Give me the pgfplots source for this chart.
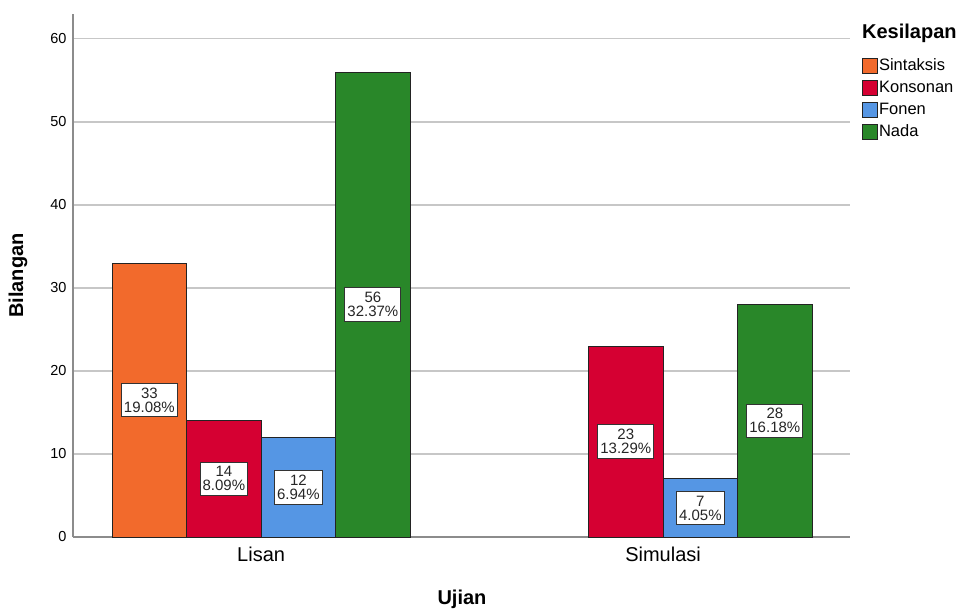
\documentclass[border=0pt]{standalone}
\usepackage{pgfplots}
\pgfplotsset{compat=1.18}
\usepackage{pgfplotstable}
\usepackage{fontspec}
\setmainfont{Liberation Sans}

\definecolor{cSin}{RGB}{242,106,44}
\definecolor{cKon}{RGB}{213,0,50}
\definecolor{cFon}{RGB}{85,150,228}
\definecolor{cNad}{RGB}{41,135,41}
\definecolor{edge}{RGB}{35,35,35}

% x: Lisan = 0, Simulasi = 1; bars offset by +-0.5/1.5 bar widths
\pgfplotstableread{
x n
-0.278 33
}\sintaksis
\pgfplotstableread{
x n
-0.0927 14
0.9073 23
}\konsonan
\pgfplotstableread{
x n
0.0927 12
1.0927 7
}\fonen
\pgfplotstableread{
x n
0.278 56
1.278 28
}\nada
\pgfplotstableread{
x n pct
-0.278 33 19.08
-0.0927 14 8.09
0.0927 12 6.94
0.278 56 32.37
0.9073 23 13.29
1.0927 7 4.05
1.278 28 16.18
}\labels

\begin{document}
\begin{tikzpicture}
\begin{axis}[
    scale only axis,
    width=777pt, height=523pt,
    xmin=-0.468, xmax=1.465,
    ymin=0, ymax=63,
    ytick={0,10,...,60},
    xtick={0,1},
    xticklabels={Lisan,Simulasi},
    major tick length=0pt,
    axis lines*=left,
    axis line style={-, draw=black!45, line width=1.2pt},
    ymajorgrids,
    grid style={black!22, line width=1.2pt},
    /pgf/number format/assume math mode=true,
    yticklabel style={font=\fontsize{14.5}{14.5}\selectfont, xshift=-3pt},
    xticklabel style={font=\fontsize{20}{20}\selectfont, yshift=-6pt},
    ylabel={\textbf{Bilangan}},
    ylabel style={font=\fontsize{20}{20}\selectfont, at={(rel axis cs:-0.0708,0.5)}, anchor=center},
    xlabel={\textbf{Ujian}},
    xlabel style={font=\fontsize{20}{20}\selectfont, at={(rel axis cs:0.5006,-0.12)}, anchor=center},
    bar width=0.1853,
    legend style={at={(rel axis cs:1.0154,0.9178)}, anchor=north west,
        draw=none, fill=none, inner sep=0pt, row sep=4pt,
        font=\fontsize{16.5}{16.5}\selectfont,
        nodes={inner sep=1pt, text height=12pt, text depth=4pt},
        cells={anchor=west}},
    legend image code/.code={\draw[#1] (0pt,-7pt) rectangle (15pt,8pt);},
    clip=false,
]
\addplot[ybar, bar shift=0pt, fill=cSin, draw=edge, line width=0.9pt] table[x=x, y=n] {\sintaksis};
\addlegendentry{Sintaksis}
\addplot[ybar, bar shift=0pt, fill=cKon, draw=edge, line width=0.9pt] table[x=x, y=n] {\konsonan};
\addlegendentry{Konsonan}
\addplot[ybar, bar shift=0pt, fill=cFon, draw=edge, line width=0.9pt] table[x=x, y=n] {\fonen};
\addlegendentry{Fonen}
\addplot[ybar, bar shift=0pt, fill=cNad, draw=edge, line width=0.9pt] table[x=x, y=n] {\nada};
\addlegendentry{Nada}

\addplot[draw=none, mark=none, forget plot,
    point meta=explicit,
    visualization depends on={\thisrow{pct}\as\pct},
    nodes near coords={\pgfmathprintnumber{\pgfplotspointmeta}\\\pgfmathprintnumber[fixed, precision=2, fixed zerofill]{\pct}\%},
    every node near coord/.style={anchor=center, fill=white, draw=black!80,
        line width=0.9pt, align=center, inner xsep=2.5pt, inner ysep=4.5pt,
        font=\fontsize{15}{14}\selectfont, text=black!85},
] table[x=x, y expr=\thisrow{n}/2, meta=n] {\labels};

\node[anchor=west, font=\fontsize{20}{20}\selectfont\bfseries, inner sep=0pt]
    at (rel axis cs:1.0154,0.9637) {Kesilapan};
\coordinate (O) at (rel axis cs:0,0);
\end{axis}
\path (O) ++(-73pt,-73pt) rectangle ++(965pt,610pt);
\end{tikzpicture}
\end{document}
